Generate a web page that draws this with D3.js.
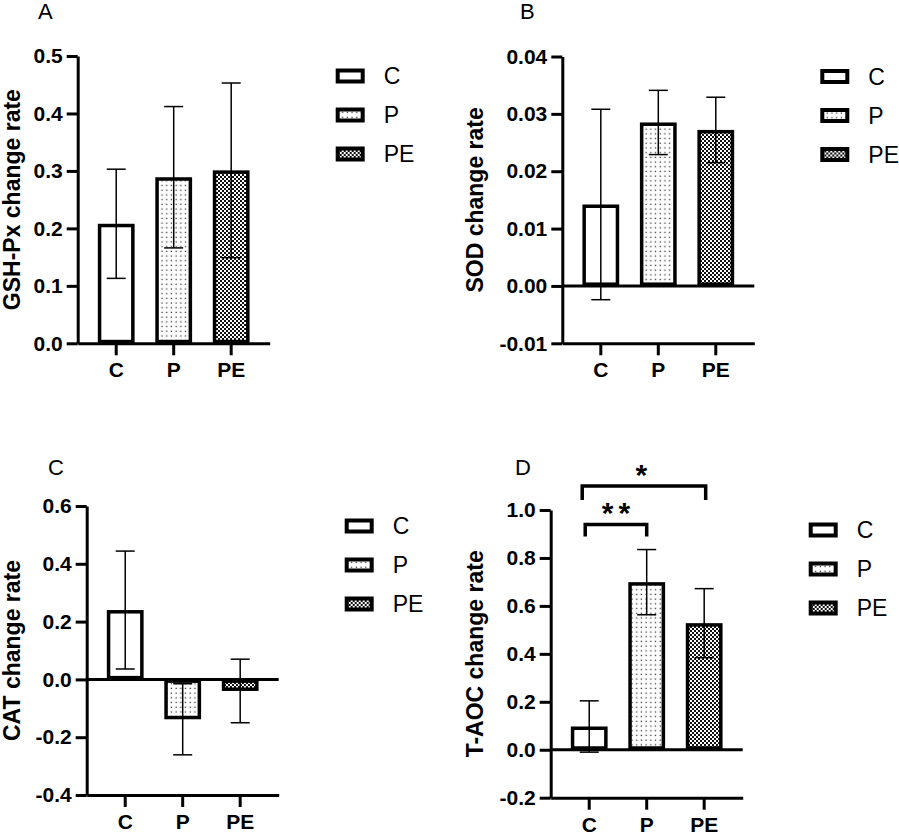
<!DOCTYPE html>
<html>
<head>
<meta charset="utf-8">
<script src="https://cdn.jsdelivr.net/npm/d3@7"></script>
<style>
  body { margin: 0; background: #fff; }
  text { font-family: "Liberation Sans", Arial, sans-serif; }
</style>
</head>
<body>
<svg id="chart" width="899" height="834"></svg>
<script>
// groups and values (mean, error bar half length)
var groups = ["C", "P", "PE"];

var gshMean = [0.208, 0.289, 0.301];
var gshErr = [0.095, 0.123, 0.152];
var gshTicks = [0.0, 0.1, 0.2, 0.3, 0.4, 0.5];

var sodMean = [0.0142, 0.0285, 0.0272];
var sodErr = [0.0166, 0.0056, 0.0057];
var sodTicks = [-0.01, 0.00, 0.01, 0.02, 0.03, 0.04];

var catMean = [0.240, -0.138, -0.040];
var catErr = [0.204, 0.123, 0.110];
var catTicks = [-0.4, -0.2, 0.0, 0.2, 0.4, 0.6];

var taocMean = [0.097, 0.699, 0.528];
var taocErr = [0.107, 0.136, 0.144];
var taocTicks = [-0.2, 0.0, 0.2, 0.4, 0.6, 0.8, 1.0];

var taocSig = [
    { from: "C", to: "P", label: "**" },
    { from: "C", to: "PE", label: "*" }
];

var svg = d3.select("#chart");
var defs = svg.append("defs");

// dotted fill for P
var dots = defs.append("pattern")
    .attr("id", "dots")
    .attr("patternUnits", "userSpaceOnUse")
    .attr("width", 4.7)
    .attr("height", 4.7);
dots.append("rect").attr("width", 4.7).attr("height", 4.7).attr("fill", "#fff");
dots.append("rect").attr("x", 1.6).attr("y", 1.6).attr("width", 1.3).attr("height", 1.3).attr("fill", "#333");

// checker fill for PE
var checks = defs.append("pattern")
    .attr("id", "checks")
    .attr("patternUnits", "userSpaceOnUse")
    .attr("width", 4)
    .attr("height", 4);
checks.append("rect").attr("width", 4).attr("height", 4).attr("fill", "#fff");
checks.append("rect").attr("width", 2).attr("height", 2).attr("fill", "#111");
checks.append("rect").attr("x", 2).attr("y", 2).attr("width", 2).attr("height", 2).attr("fill", "#111");

var fills = ["#fff", "url(#dots)", "url(#checks)"];

var panels = [
    { letter: "A", letterX: 38, letterY: 19, title: "GSH-Px change rate", titleX: 20,
      mean: gshMean, err: gshErr, ticks: gshTicks, digits: 1,
      left: 77.7, top: 56, bottom: 343.3 },
    { letter: "B", letterX: 520, letterY: 19, title: "SOD change rate", titleX: 483,
      mean: sodMean, err: sodErr, ticks: sodTicks, digits: 2,
      left: 562.3, top: 56.5, bottom: 343.3 },
    { letter: "C", letterX: 48, letterY: 475, title: "CAT change rate", titleX: 20,
      mean: catMean, err: catErr, ticks: catTicks, digits: 1,
      left: 86.7, top: 506, bottom: 795 },
    { letter: "D", letterX: 515, letterY: 475, title: "T-AOC change rate", titleX: 483,
      mean: taocMean, err: taocErr, ticks: taocTicks, digits: 1,
      left: 550.7, top: 510, bottom: 797.7,
      sig: taocSig, sigLevels: [0.94, 1.10] }
];

var barStroke = 3.5;
var axisStroke = 3;

panels.forEach(drawPanel);

function drawPanel(p) {
    var g = svg.append("g");

    var x = d3.scaleBand()
        .domain(groups)
        .range([p.left, p.left + 192])
        .paddingInner(0.36)
        .paddingOuter(0.35);

    var y = d3.scaleLinear()
        .domain([p.ticks[0], p.ticks[p.ticks.length - 1]])
        .range([p.bottom, p.top]);

    var y0 = y(0);

    // bars
    g.selectAll(".bar")
        .data(groups)
        .enter()
        .append("rect")
        .attr("class", "bar")
        .attr("x", function (d) { return x(d) + barStroke / 2; })
        .attr("width", x.bandwidth() - barStroke)
        .attr("y", function (d, i) { return Math.min(y(p.mean[i]), y0) + barStroke / 2; })
        .attr("height", function (d, i) { return Math.abs(y(p.mean[i]) - y0) - barStroke; })
        .attr("fill", function (d, i) { return fills[i]; })
        .attr("stroke", "#000")
        .attr("stroke-width", barStroke);

    // error bars
    var capW = 9.5;
    var eb = g.selectAll(".err")
        .data(groups)
        .enter()
        .append("g")
        .attr("class", "err")
        .attr("stroke", "#000")
        .attr("stroke-width", 1.5);
    eb.append("line")
        .attr("x1", function (d) { return x(d) + x.bandwidth() / 2; })
        .attr("x2", function (d) { return x(d) + x.bandwidth() / 2; })
        .attr("y1", function (d, i) { return y(p.mean[i] + p.err[i]); })
        .attr("y2", function (d, i) { return y(p.mean[i] - p.err[i]); });
    [1, -1].forEach(function (s) {
        eb.append("line")
            .attr("x1", function (d) { return x(d) + x.bandwidth() / 2 - capW; })
            .attr("x2", function (d) { return x(d) + x.bandwidth() / 2 + capW; })
            .attr("y1", function (d, i) { return y(p.mean[i] + s * p.err[i]); })
            .attr("y2", function (d, i) { return y(p.mean[i] + s * p.err[i]); });
    });

    // zero line when the axis does not start at 0
    if (p.ticks[0] < 0) {
        g.append("line")
            .attr("x1", p.left).attr("x2", p.left + 192)
            .attr("y1", y0).attr("y2", y0)
            .attr("stroke", "#000")
            .attr("stroke-width", axisStroke);
    }

    // y axis
    var yAxis = g.append("g")
        .attr("transform", "translate(" + p.left + ",0)")
        .call(d3.axisLeft(y)
            .tickValues(p.ticks)
            .tickSize(11)
            .tickSizeOuter(0)
            .tickPadding(4)
            .tickFormat(function (d) { return d.toFixed(p.digits); }));

    // x axis
    var xAxis = g.append("g")
        .attr("transform", "translate(0," + p.bottom + ")")
        .call(d3.axisBottom(x)
            .tickSize(12)
            .tickSizeOuter(0)
            .tickPadding(7));

    [yAxis, xAxis].forEach(function (ax) {
        ax.select(".domain").attr("stroke-width", axisStroke);
        ax.selectAll(".tick line").attr("stroke-width", axisStroke);
        ax.selectAll("text")
            .attr("font-size", 21)
            .attr("font-weight", "bold")
            .attr("fill", "#000")
            .style("font-family", "'Liberation Sans', Arial, sans-serif");
    });

    // axis title
    g.append("text")
        .attr("transform", "translate(" + p.titleX + "," + ((p.top + p.bottom) / 2) + ") rotate(-90)")
        .attr("text-anchor", "middle")
        .attr("font-size", 23)
        .attr("font-weight", "bold")
        .text(p.title);

    // panel letter
    g.append("text")
        .attr("x", p.letterX)
        .attr("y", p.letterY)
        .attr("font-size", 22)
        .text(p.letter);

    // legend
    var lg = g.append("g")
        .attr("transform", "translate(" + (p.left + 258) + "," + (p.top + 20) + ")");
    var item = lg.selectAll(".item")
        .data(groups)
        .enter()
        .append("g")
        .attr("transform", function (d, i) { return "translate(0," + (i * 39) + ")"; });
    item.append("rect")
        .attr("x", 2)
        .attr("y", -5.5)
        .attr("width", 25)
        .attr("height", 11)
        .attr("fill", function (d, i) { return fills[i]; })
        .attr("stroke", "#000")
        .attr("stroke-width", 4);
    item.append("text")
        .attr("x", 48)
        .attr("dy", "0.36em")
        .attr("font-size", 23)
        .text(function (d) { return d; });

    // significance brackets
    if (p.sig) {
        p.sig.forEach(function (s, k) {
            var x1 = x(s.from) + x.bandwidth() / 2 - 4 - k * 3;
            var x2 = x(s.to) + x.bandwidth() / 2 + k * 1.5;
            var yb = y(p.sigLevels[k]);
            var leg = 12 + k * 2;
            g.append("path")
                .attr("d", "M" + x1 + "," + (yb + leg) + "V" + yb + "H" + x2 + "V" + (yb + leg))
                .attr("fill", "none")
                .attr("stroke", "#000")
                .attr("stroke-width", 3.5);
            g.append("text")
                .attr("x", (x1 + x2) / 2 + (s.label.length - 1) * 2.5)
                .attr("y", yb - 1)
                .attr("text-anchor", "middle")
                .attr("font-size", 30)
                .attr("font-weight", "bold")
                .attr("letter-spacing", 5)
                .text(s.label);
        });
    }
}
</script>
</body>
</html>
